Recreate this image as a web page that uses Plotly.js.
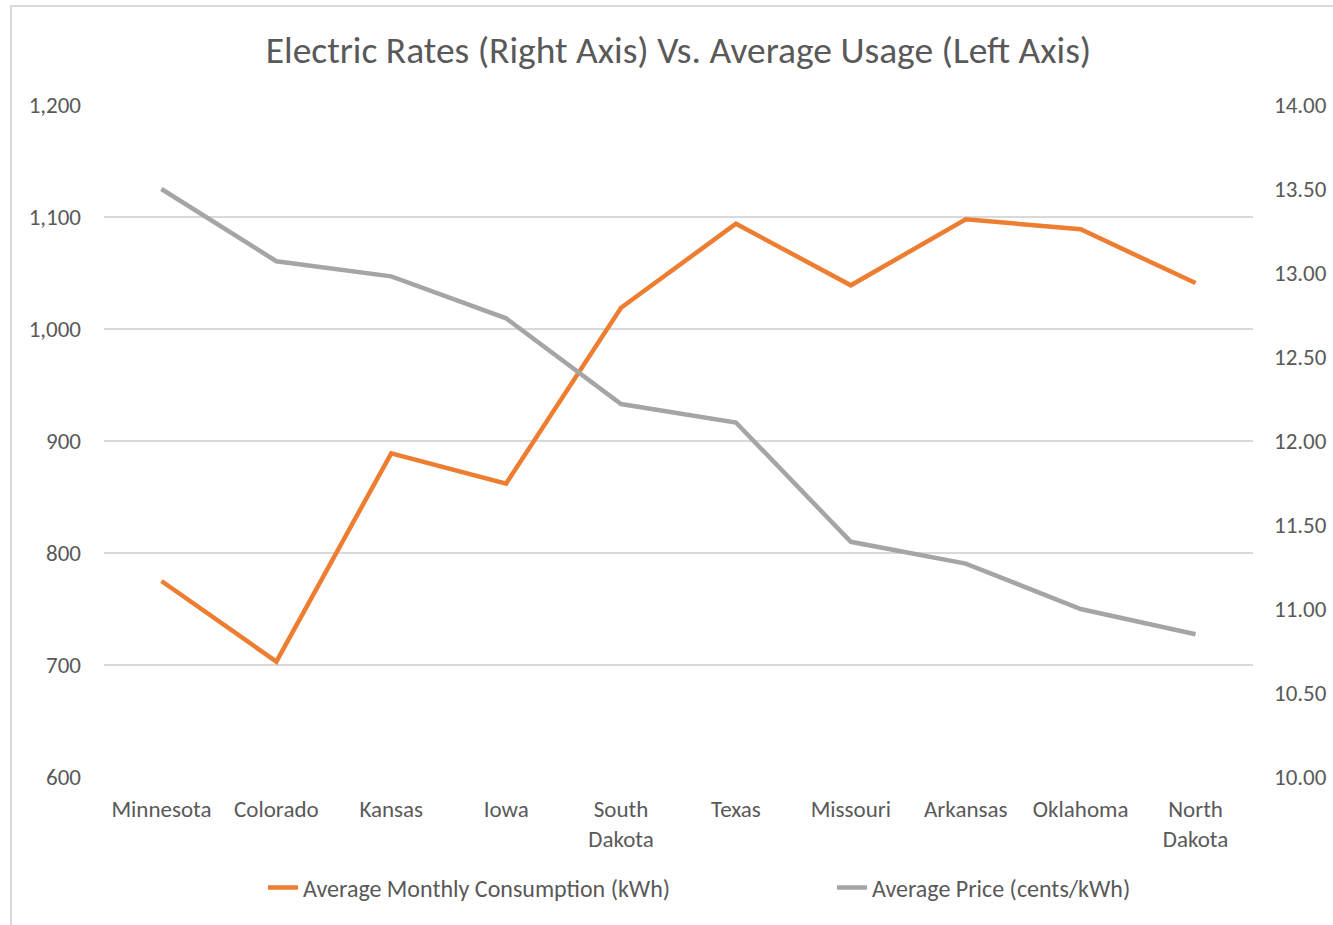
<!DOCTYPE html>
<html>
<head>
<meta charset="utf-8">
<script src="https://cdn.plot.ly/plotly-3.0.1.min.js"></script>
<style>
  html, body { margin: 0; padding: 0; background: #fff; }
  #wrap { position: relative; width: 1333px; height: 925px; }
  #chart { position: absolute; left: 0; top: 0; width: 1333px; height: 925px; }
  #frame { position: absolute; left: 10px; top: 5px; width: 1330px; height: 930px;
           border-top: 2px solid #d9d9d9; border-left: 2px solid #d9d9d9; pointer-events: none; }
</style>
</head>
<body>
<div id="wrap">
  <div id="chart"></div>
  <div id="frame"></div>
</div>
<script>
const states = ["Minnesota", "Colorado", "Kansas", "Iowa", "South<br>Dakota", "Texas",
                "Missouri", "Arkansas", "Oklahoma", "North<br>Dakota"];
const consumption = [775, 703, 889, 862, 1019, 1094, 1039, 1098, 1089, 1041];
const price = [13.50, 13.07, 12.98, 12.73, 12.22, 12.11, 11.40, 11.27, 11.00, 10.85];
const leftTicks = [600, 700, 800, 900, 1000, 1100, 1200];
const rightTicks = [10.0, 10.5, 11.0, 11.5, 12.0, 12.5, 13.0, 13.5, 14.0];

const FONT = "Carlito, Calibri, Lato, sans-serif";
const TXT = "#595959";

const traces = [
  {
    x: states, y: consumption, type: "scatter", mode: "lines",
    name: "Average Monthly Consumption (kWh)",
    line: { color: "#ED7D31", width: 4.5 },
    yaxis: "y", legend: "legend"
  },
  {
    x: states, y: price, type: "scatter", mode: "lines",
    name: "Average Price (cents/kWh)",
    line: { color: "#A5A5A5", width: 4.5 },
    yaxis: "y2", legend: "legend2"
  }
];

const legendBase = {
  orientation: "h", xanchor: "left", y: -0.165, yanchor: "middle",
  font: { family: FONT, size: 24, color: TXT }, bgcolor: "rgba(0,0,0,0)"
};

const layout = {
  width: 1333, height: 925,
  margin: { l: 104, r: 80, t: 105, b: 148 },
  paper_bgcolor: "rgba(0,0,0,0)",
  plot_bgcolor: "rgba(0,0,0,0)",
  font: { family: FONT, color: TXT, size: 23 },
  title: {
    text: "Electric Rates (Right Axis) Vs. Average Usage (Left Axis)",
    font: { family: FONT, size: 37.5, color: TXT },
    xref: "paper", x: 0.5, xanchor: "center", y: 0.946, yanchor: "middle"
  },
  showlegend: true,
  legend: Object.assign({}, legendBase, { x: 0.1384 }),
  legend2: Object.assign({}, legendBase, { x: 0.6336 }),
  xaxis: {
    type: "category", tickvals: states, ticktext: states,
    range: [-0.5, states.length - 0.5],
    showgrid: false, zeroline: false, showline: false, ticks: "",
    ticklabelstandoff: 16,
    tickfont: { family: FONT, size: 23, color: TXT },
    fixedrange: true
  },
  yaxis: {
    range: [600, 1200], tickvals: leftTicks,
    tickformat: ",d", separators: ".,",
    showgrid: true, gridcolor: "#d9d9d9", gridwidth: 1.5,
    zeroline: false, showline: false, ticks: "", ticklabelstandoff: 22,
    tickfont: { family: FONT, size: 23, color: TXT }
  },
  yaxis2: {
    range: [10, 14], tickvals: rightTicks, tickformat: ".2f",
    overlaying: "y", side: "right",
    showgrid: false, zeroline: false, showline: false, ticks: "", ticklabelstandoff: 20,
    tickfont: { family: FONT, size: 23, color: TXT }
  }
};

Plotly.newPlot("chart", traces, layout, { staticPlot: true, displayModeBar: false });
</script>
</body>
</html>
